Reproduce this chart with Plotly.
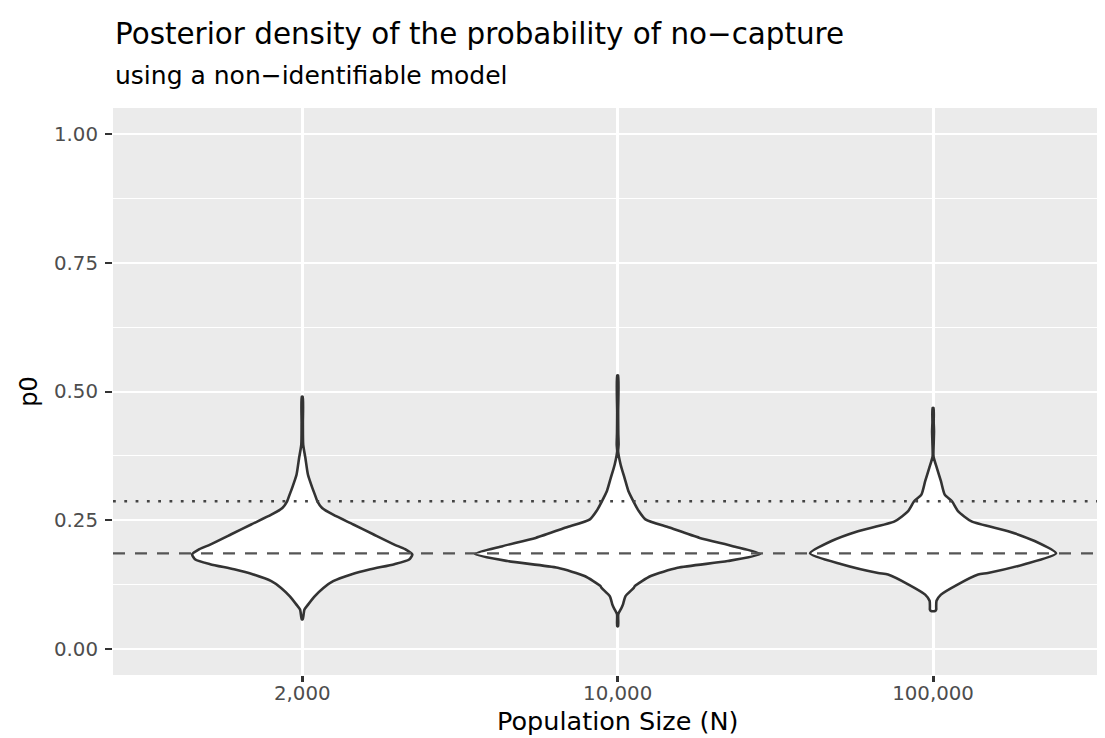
import plotly.graph_objects as go

# ---- data ----
categories = ["2,000", "10,000", "100,000"]

# violin outline profiles: p0 levels and half-widths (in category units)
v1_y  = [0.058, 0.077, 0.087, 0.103, 0.119, 0.132, 0.145, 0.155, 0.165, 0.174, 0.184, 0.194, 0.203, 0.223, 0.242, 0.261, 0.274, 0.287, 0.300, 0.313, 0.339, 0.371, 0.397, 0.440, 0.490]
v1_hw = [0.0015, 0.007, 0.019, 0.040, 0.067, 0.098, 0.155, 0.216, 0.292, 0.339, 0.349, 0.326, 0.292, 0.225, 0.162, 0.098, 0.063, 0.048, 0.040, 0.032, 0.018, 0.010, 0.003, 0.002, 0.0015]

v2_y  = [0.045, 0.068, 0.080, 0.087, 0.094, 0.103, 0.119, 0.123, 0.142, 0.158, 0.171, 0.185, 0.200, 0.216, 0.236, 0.252, 0.268, 0.287, 0.307, 0.332, 0.358, 0.384, 0.397, 0.420, 0.460, 0.531]
v2_hw = [0.0015, 0.002, 0.012, 0.017, 0.020, 0.025, 0.051, 0.055, 0.105, 0.190, 0.349, 0.452, 0.365, 0.260, 0.164, 0.088, 0.067, 0.050, 0.034, 0.022, 0.0095, 0.0015, 0.003, 0.002, 0.0015, 0.0015]

v3_y  = [0.074, 0.077, 0.081, 0.094, 0.106, 0.126, 0.145, 0.148, 0.165, 0.186, 0.210, 0.229, 0.248, 0.268, 0.287, 0.300, 0.326, 0.352, 0.374, 0.400, 0.423, 0.440, 0.468]
v3_hw = [0.006, 0.010, 0.010, 0.011, 0.025, 0.079, 0.143, 0.174, 0.290, 0.390, 0.322, 0.238, 0.122, 0.079, 0.060, 0.037, 0.025, 0.012, 0.0015, 0.002, 0.003, 0.002, 0.0015]

violin_y = [v1_y, v2_y, v3_y]
violin_hw = [v1_hw, v2_hw, v3_hw]

dashed_level = 0.186
dotted_level = 0.287

y_ticks = [0.0, 0.25, 0.5, 0.75, 1.0]

# ---- figure ----
W, H = 1105, 738
ML, MR, MT, MB = 104.7, 0, 100, 70.5
ph = H - MT - MB
pw = W - ML - MR
FONT = "DejaVu Sans, Liberation Sans, Arial, sans-serif"

def py(p):
    # pixel from top -> paper y
    return (H - MB - p) / ph

def px(p):
    return (p - ML) / pw

fig = go.Figure()

for i, (ys, hws) in enumerate(zip(violin_y, violin_hw)):
    xs = [i + h for h in hws] + [i - h for h in reversed(hws)] + [i + hws[0]]
    yy = list(ys) + list(reversed(ys)) + [ys[0]]
    fig.add_trace(go.Scatter(
        x=xs, y=yy, mode="lines", fill="toself", fillcolor="white",
        line=dict(color="#333333", width=2.6, shape="spline", smoothing=0.6),
        hoverinfo="skip", showlegend=False))

x_lo, x_hi = -0.6, 2.5705
fig.add_trace(go.Scatter(x=[x_lo, x_hi], y=[dotted_level, dotted_level], mode="lines",
                         line=dict(color="#444444", width=2.4, dash="2.8px,8.5px"),
                         hoverinfo="skip", showlegend=False))
fig.add_trace(go.Scatter(x=[x_lo, x_hi], y=[dashed_level, dashed_level], mode="lines",
                         line=dict(color="#555555", width=2.4, dash="12px,10px"),
                         hoverinfo="skip", showlegend=False))

fig.update_layout(
    width=W, height=H,
    margin=dict(l=ML, r=MR, t=MT, b=MB, pad=0),
    paper_bgcolor="white", plot_bgcolor="#EBEBEB",
    font=dict(family=FONT, color="#4D4D4D"),
    showlegend=False,
)
fig.update_xaxes(
    range=[x_lo, x_hi], tickvals=[0, 1, 2], ticktext=categories,
    showgrid=True, gridcolor="white", gridwidth=2.7, zeroline=False,
    ticks="outside", ticklen=6, tickwidth=2.7, tickcolor="#333333",
    tickfont=dict(family=FONT, size=19.8, color="#4D4D4D"), showline=False, ticklabelstandoff=-6,
)
fig.update_yaxes(
    range=[-0.05, 1.05], tickvals=y_ticks, tickformat=".2f",
    showgrid=True, gridcolor="white", gridwidth=2.2, zeroline=False,
    ticks="outside", ticklen=7, tickwidth=2.2, tickcolor="#333333",
    tickfont=dict(family=FONT, size=19.8, color="#4D4D4D"), showline=False, ticklabelstandoff=3,
    minor=dict(tickvals=[0.125, 0.375, 0.625, 0.875], showgrid=True, gridcolor="white", gridwidth=1.1, ticks=""),
)

fig.add_annotation(text="Posterior density of the probability of no\u2212capture",
                   xref="paper", yref="paper", x=0, y=py(7.2), xanchor="left", yanchor="top",
                   showarrow=False, font=dict(family=FONT, size=29.4, color="black"))
fig.add_annotation(text="using a non\u2212identifiable model",
                   xref="paper", yref="paper", x=0, y=py(51.3), xanchor="left", yanchor="top",
                   showarrow=False, font=dict(family=FONT, size=25, color="black"))
fig.add_annotation(text="Population Size (N)",
                   xref="x", yref="paper", x=1, y=py(714), xanchor="center", yanchor="middle",
                   showarrow=False, font=dict(family=FONT, size=25.5, color="black"))
fig.add_annotation(text="p0", textangle=-90,
                   xref="paper", yref="paper", x=px(20), y=0.5, xanchor="center", yanchor="middle",
                   showarrow=False, font=dict(family=FONT, size=24, color="black"))

fig.write_html("out.html")
